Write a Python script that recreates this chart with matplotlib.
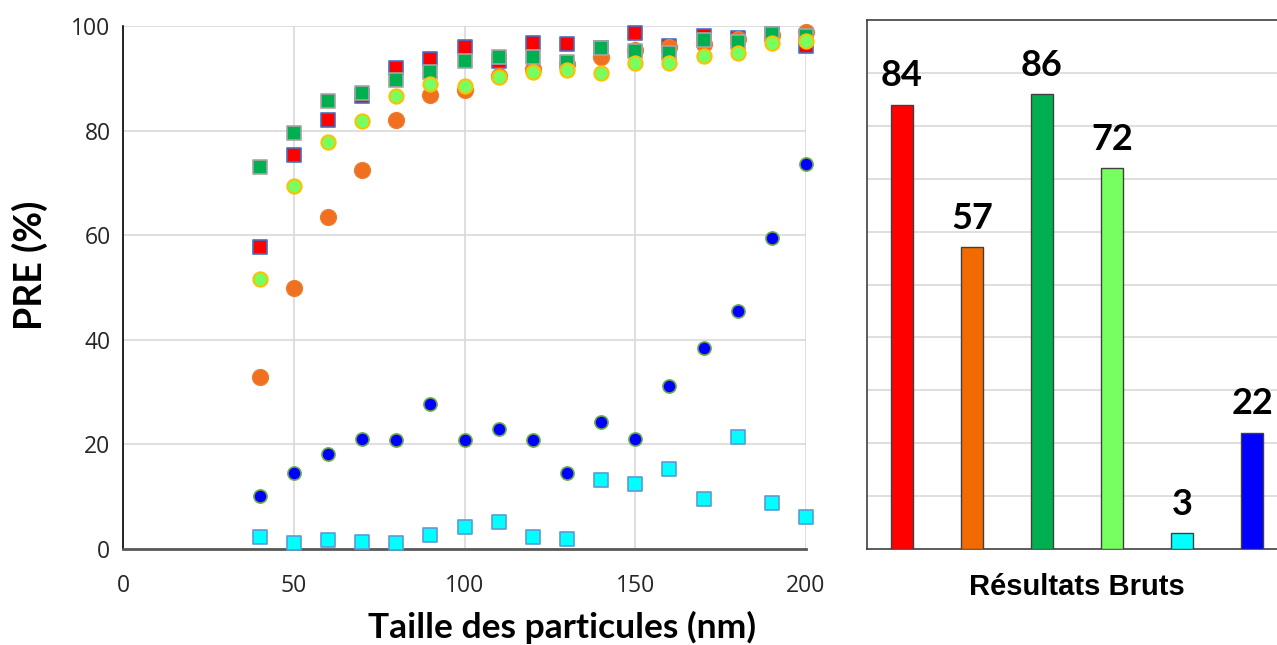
import matplotlib.pyplot as plt
import numpy as np

# particle sizes (nm)
sizes = [40, 50, 60, 70, 80, 90, 100, 110, 120, 130, 140, 150, 160, 170, 180, 190, 200]

# PRE (%) for each series
red_sq = [57.7, 75.3, 82.0, 86.6, 91.9, 93.6, 95.9, 93.4, 96.7, 96.5, 95.7, 98.7, 96.2, 98.1, 97.8, 98.4, 96.2]
orange_ci = [32.9, 49.9, 63.4, 72.5, 82.0, 86.8, 87.7, 90.4, 91.7, 92.7, 94.1, 95.5, 95.9, 96.5, 97.5, 98.3, 98.9]
green_sq = [73.0, 79.6, 85.7, 87.1, 89.6, 91.2, 93.3, 94.1, 94.1, 93.2, 95.7, 95.2, 94.9, 97.3, 97.0, 98.4, 98.1]
lime_ci = [51.6, 69.5, 77.9, 81.8, 86.6, 89.0, 88.5, 90.3, 91.2, 91.5, 91.0, 92.9, 92.9, 94.3, 94.9, 96.8, 97.2]
cyan_sq = [2.2, 1.1, 1.7, 1.3, 1.1, 2.7, 4.3, 5.2, 2.2, 1.9, 13.1, 12.4, 15.3, 9.6, 21.4, 8.7, 6.1]
blue_ci = [10.1, 14.5, 18.2, 21.0, 20.8, 27.8, 20.8, 22.9, 20.8, 14.5, 24.3, 21.0, 31.2, 38.4, 45.6, 59.4, 73.6]

# raw results (bar chart)
raw_vals = [84, 57, 86, 72, 3, 22]
raw_colors = ['#FF0000', '#F26B00', '#00B050', '#77FF5F', '#00FFFF', '#0000FF']

fig = plt.figure(figsize=(12.77, 6.45), dpi=100)

# left scatter panel
ax = fig.add_axes([123/1277, 96/645, 683/1277, 523/645])
ax.scatter(sizes, red_sq, marker='s', s=95, c='#FF0000', edgecolors='#4472C4', linewidths=1.2, clip_on=False, zorder=3)
ax.scatter(sizes, orange_ci, marker='o', s=130, c='#F07020', edgecolors='#ED7D31', linewidths=1, clip_on=False, zorder=3)
ax.scatter(sizes, green_sq, marker='s', s=95, c='#00B050', edgecolors='#A5A5A5', linewidths=1.2, clip_on=False, zorder=3)
ax.scatter(sizes, lime_ci, marker='o', s=105, c='#77FF5F', edgecolors='#FFC000', linewidths=1.5, clip_on=False, zorder=3)
ax.scatter(sizes, cyan_sq, marker='s', s=95, c='#00FFFF', edgecolors='#5B9BD5', linewidths=1.2, clip_on=False, zorder=3)
ax.scatter(sizes, blue_ci, marker='o', s=90, c='#0000FF', edgecolors='#70AD47', linewidths=1.2, clip_on=False, zorder=3)

ax.set_xlim(0, 200)
ax.set_ylim(0, 100)
ax.set_xticks([0, 50, 100, 150, 200])
ax.set_yticks([0, 20, 40, 60, 80, 100])
ax.grid(True, color='#D9D9D9', linewidth=1.2)
ax.set_axisbelow(True)
for side in ['top', 'right']:
    ax.spines[side].set_visible(False)
ax.spines['left'].set_color('black')
ax.spines['left'].set_linewidth(1.2)
ax.spines['bottom'].set_color('#595959')
ax.spines['bottom'].set_linewidth(2)
ax.tick_params(length=0, labelsize=16.5, labelcolor='#262626')
ax.tick_params(axis='x', pad=18)
ax.tick_params(axis='y', pad=9)
for lab in ax.get_xticklabels() + ax.get_yticklabels():
    lab.set_fontfamily('Open Sans')
ax.set_xlabel('Taille des particules (nm)', fontsize=25.5, fontweight='bold', family='Lato', va='center')
ax.xaxis.set_label_coords((562 - 123) / 683, -(627 - 549) / 523)
ax.set_ylabel('PRE (%)', fontsize=27, fontweight='bold', family='Lato', va='center')
ax.yaxis.set_label_coords(-(123 - 30) / 683, (549 - 265) / 523)

# right bar panel
bx = fig.add_axes([867/1277, 96/645, 420/1277, 529/645])
pos = np.arange(len(raw_vals))
bars = bx.bar(pos, raw_vals, width=0.32, color=raw_colors, edgecolor='#404040', linewidth=1, zorder=3)
for p, v in zip(pos, raw_vals):
    bx.annotate(str(v), (p, v), xytext=(0, 9), textcoords='offset points', ha='center', va='bottom',
                fontsize=26, fontweight='bold', family='Lato')
bx.set_xlim(-0.5, 5.5)
bx.set_ylim(0, 100)
bx.set_yticks(np.arange(10, 100, 10))
bx.set_xticks([])
bx.tick_params(length=0, labelleft=False)
bx.grid(True, axis='y', color='#D9D9D9', linewidth=1.2)
bx.set_axisbelow(True)
for side in bx.spines:
    bx.spines[side].set_color('#404040')
    bx.spines[side].set_linewidth(1.2)
bx.set_xlabel('Résultats Bruts', fontsize=21, fontweight='bold', family='Liberation Sans', labelpad=17)

fig.savefig('out.png', dpi=100)
